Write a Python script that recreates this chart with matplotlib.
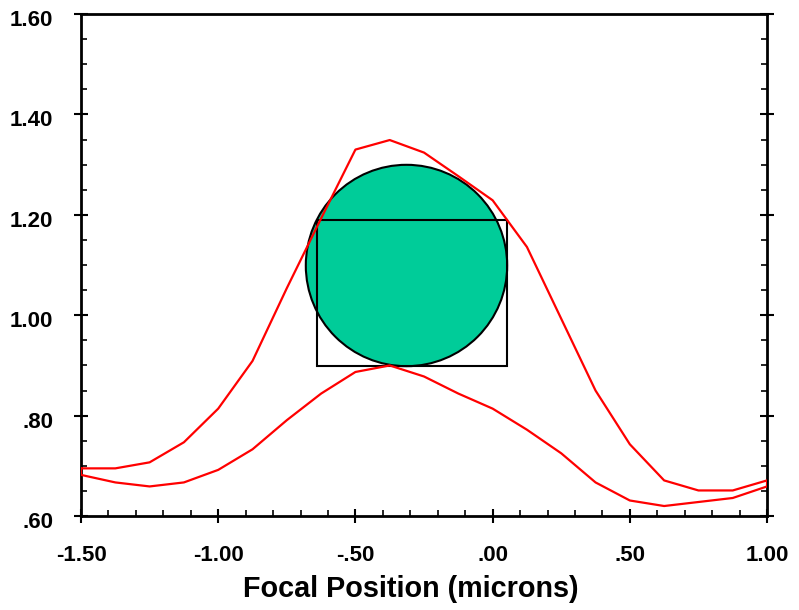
import numpy as np
import matplotlib.pyplot as plt
import matplotlib.transforms as mtransforms
from matplotlib.patches import Rectangle
from matplotlib.ticker import MultipleLocator, FuncFormatter

plt.rcParams['font.family'] = ['Liberation Sans', 'DejaVu Sans']
plt.rcParams['font.weight'] = 'bold'

# focal positions (microns)
focus = [-1.5, -1.375, -1.25, -1.125, -1.0, -0.875, -0.75, -0.625, -0.5, -0.375, -0.25,
         -0.125, 0.0, 0.125, 0.25, 0.375, 0.5, 0.625, 0.75, 0.875, 1.0]

# upper and lower bounding curves
upper = [0.695, 0.695, 0.707, 0.747, 0.814, 0.909, 1.054, 1.193, 1.330, 1.349, 1.324,
         1.277, 1.229, 1.136, 0.993, 0.850, 0.743, 0.671, 0.651, 0.651, 0.671]
lower = [0.682, 0.667, 0.659, 0.667, 0.692, 0.733, 0.791, 0.844, 0.887, 0.900, 0.878,
         0.844, 0.814, 0.772, 0.725, 0.667, 0.631, 0.620, 0.628, 0.636, 0.659]

# circle marker centre and box corners
circle_x = [-0.316]
circle_y = [1.10]
box_x = [-0.641, 0.052]
box_y = [0.899, 1.189]

fig = plt.figure(figsize=(7.99, 6.10), dpi=100)
ax = fig.add_axes([0.1014, 0.154, 0.8586, 0.823])

ax.scatter(circle_x, circle_y, s=145**2, marker='o', facecolor='#00CC99',
           edgecolor='black', linewidth=1.5, zorder=2)
ax.add_patch(Rectangle((box_x[0], box_y[0]), box_x[1] - box_x[0], box_y[1] - box_y[0],
                       fill=False, edgecolor='black', linewidth=1.5, zorder=3))

# closed loop: upper curve then lower curve reversed
loop_x = focus + focus[::-1] + [focus[0]]
loop_y = upper + lower[::-1] + [upper[0]]
ax.plot(loop_x, loop_y, color='red', linewidth=1.6, zorder=4)

ax.set_xlim(-1.5, 1.0)
ax.set_ylim(0.6, 1.6)

ax.xaxis.set_major_locator(MultipleLocator(0.5))
ax.xaxis.set_minor_locator(MultipleLocator(0.1))
ax.yaxis.set_major_locator(MultipleLocator(0.2))
ax.yaxis.set_minor_locator(MultipleLocator(0.05))

def fmt(v, pos):
    s = '%.2f' % v
    if s.startswith('0.'):
        s = s[1:]
    elif s.startswith('-0.'):
        s = '-' + s[2:]
    elif s == '-.00' or s == '0.00':
        s = '.00'
    return s

ax.xaxis.set_major_formatter(FuncFormatter(fmt))
ax.yaxis.set_major_formatter(FuncFormatter(fmt))

ax.tick_params(which='major', direction='inout', length=10, width=1.5,
               labelsize=16, left=True, right=True, bottom=True, top=False)
ax.tick_params(axis='x', which='major', pad=16)
ax.tick_params(axis='y', which='major', pad=15)
ax.tick_params(which='minor', direction='in', length=4, width=1.2,
               left=True, right=True, bottom=True, top=False)
ax.tick_params(axis='y', which='both', labelright=False)

# y labels sit a little below their ticks
shift = mtransforms.ScaledTranslation(0, -4 / 100, fig.dpi_scale_trans)
for lab in ax.get_yticklabels():
    lab.set_transform(lab.get_transform() + shift)

for sp in ax.spines.values():
    sp.set_linewidth(2)

ax.set_xlabel('Focal Position (microns)', fontsize=20.7, fontweight='bold')
ax.xaxis.set_label_coords(0.48, -0.118)

fig.savefig('out.png', dpi=100)
